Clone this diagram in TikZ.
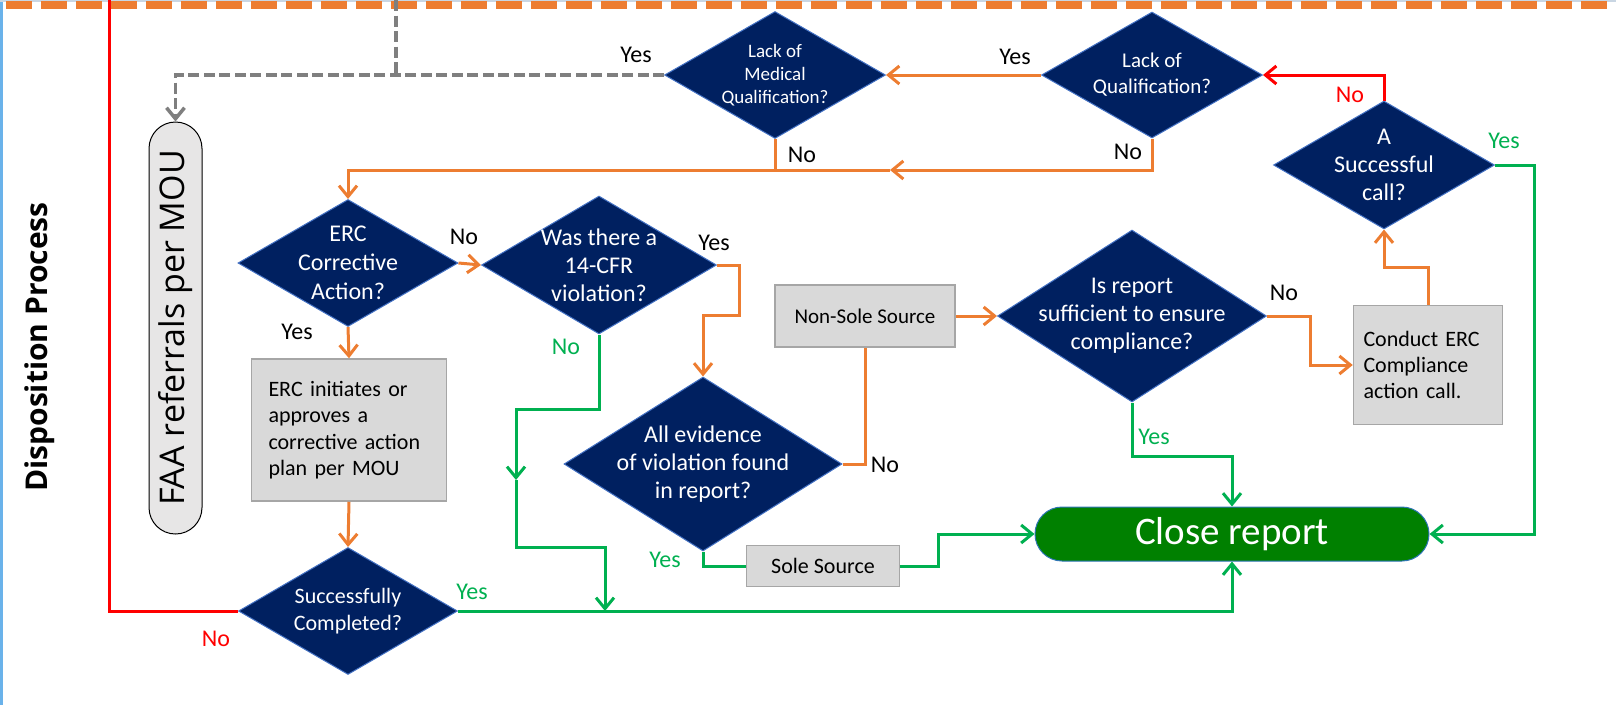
\documentclass[tikz,border=0pt]{standalone}
\usepackage{fontspec}
\setmainfont{Carlito}
\newfontfamily\opensans{Open Sans}
\usepackage{tikz}
\usetikzlibrary{shapes.geometric, arrows.meta}

\definecolor{navy}{HTML}{002060}
\definecolor{diaedge}{HTML}{4472C4}
\definecolor{boxfill}{HTML}{D9D9D9}
\definecolor{boxedge}{HTML}{A6A6A6}
\definecolor{pillfill}{HTML}{E7E6E6}
\definecolor{lorange}{HTML}{ED7D31}
\definecolor{lgreen}{HTML}{00B050}
\definecolor{lred}{HTML}{FF0000}
\definecolor{lgray}{HTML}{7F7F7F}
\definecolor{dkgreen}{HTML}{008000}
\definecolor{closeedge}{HTML}{2E75B6}
\definecolor{lblue}{HTML}{6AB2EA}
\definecolor{topedge}{HTML}{C9D6E3}

\newcommand{\fsz}[2]{\fontsize{#1}{#2}\selectfont}

\begin{document}
\begin{tikzpicture}[x=1pt, y=-1pt,
  dia/.style 2 args={diamond, draw=diaedge, line width=1pt, fill=navy, inner sep=0pt, minimum width=#1pt, minimum height=#2pt},
  dtext/.style={text=white, align=center},
  gbox/.style={rectangle, draw=boxedge, line width=1.5pt, fill=boxfill, inner sep=0pt},
  lbl/.style={font=\fsz{24}{28}},
  arr/.style={-{Straight Barb[length=11pt, width=18pt]}},
  orangeline/.style={draw=lorange, line width=3pt},
  greenline/.style={draw=lgreen, line width=3pt},
  redline/.style={draw=lred, line width=3pt},
  grayline/.style={draw=lgray, line width=3.5pt, dash pattern=on 11pt off 4.5pt}]
\useasboundingbox (0,0) rectangle (1616,705);

\fill[lblue] (0,0) rectangle (3,705);
\draw[topedge, line width=1.5pt] (0,0.75) -- (1616,0.75);
\draw[lorange, line width=8pt, dash pattern=on 26pt off 9pt, dash phase=29pt] (0,4.5) -- (1616,4.5);

\node[rotate=90, font=\opensans\bfseries\fsz{30}{36}] (title) at (40,347) {Disposition Process};

\node[rectangle, rounded corners=26.5pt, fill=pillfill, draw=black, line width=1pt, minimum width=53pt, minimum height=412pt,
  label={[rotate=90, font=\opensans\fsz{34}{40}]center:FAA referrals per MOU}] (pill) at (175.5,328) {};

\node[dia={221}{127}, label={[dtext, font=\fsz{19}{23}]center:Lack of\\Medical\\Qualification?}] (lmq) at (775,75) {};
\node[dia={221}{126}, label={[dtext, font=\fsz{21}{26}]center:Lack of\\Qualification?}] (lq) at (1152,75) {};
\node[dia={221}{128}, label={[dtext, font=\fsz{24}{28}]center:A\\Successful\\call?}] (scall) at (1384,165) {};
\node[dia={220}{127}, label={[dtext, font=\fsz{24}{29}]center:ERC\\Corrective\\Action?}] (erca) at (348,263) {};
\node[dia={235}{138}, label={[dtext, font=\fsz{24}{28}]center:Was there a\\14-CFR\\violation?}] (cfr) at (599,265) {};
\node[dia={278}{174}, label={[dtext, font=\fsz{24}{28}]center:All evidence\\of violation found\\in report?}] (evid) at (703,464) {};
\node[dia={269}{172}, label={[dtext, font=\fsz{24}{28}]center:Is report\\sufficient to ensure\\compliance?}] (suff) at (1132,316) {};
\node[dia={219}{127}, label={[dtext, font=\fsz{22}{27}]center:Successfully\\Completed?}] (succ) at (348,611) {};

\node[gbox, text width=161pt, align=left, inner xsep=17pt, minimum height=142pt, font=\fsz{22}{26.5}] (plan) at (349,430)
  {ERC initiates or\\approves a\\corrective action\\plan per MOU};
\node[gbox, text width=129pt, align=left, inner xsep=10pt, minimum height=119pt, font=\fsz{22}{26}] (conduct) at (1428,365)
  {Conduct ERC\\Compliance\\action call.};
\node[gbox, minimum width=180pt, minimum height=62pt, font=\fsz{21}{25}] (nonsole) at (865,316) {Non-Sole Source};
\node[gbox, minimum width=153pt, minimum height=41pt, font=\fsz{22}{26}] (sole) at (823,566) {Sole Source};

\node[rectangle, rounded corners=27pt, fill=dkgreen, draw=closeedge, line width=1pt, minimum width=394pt, minimum height=54pt,
  text=white, font=\fsz{39}{44}] (close) at (1232,534) {Close report};

\coordinate (gtop) at (396,0);
\coordinate (rtop) at (109,0);
\coordinate (nojoin) at (890,170);
\coordinate (cfrturn) at (739,315);
\coordinate (nocall) at (1310,365);
\coordinate (upturn) at (1384,267);
\coordinate (gbend) at (516,409);
\coordinate (gmid) at (516,480);
\coordinate (gdrop) at (605,547);

\draw[grayline, arr] (lmq.west) -| (pill.north);
\draw[grayline] (gtop) -- (gtop |- lmq.west);
\draw[orangeline, arr] (lq.west) -- (lmq.east);
\draw[redline, arr] (scall.north) |- (lq.east);
\draw[greenline, arr] (scall.east) -- ++(39,0) |- (close.east);
\draw[orangeline, arr] (lmq.south) |- (erca.north |- nojoin) -- (erca.north);
\draw[orangeline, arr] (lq.south) |- (nojoin);
\draw[orangeline] (nojoin) -- (lmq.south |- nojoin);
\draw[orangeline, arr] (erca.east) -- (cfr.west);
\draw[orangeline, arr] (erca.south) -- (plan.north);
\draw[orangeline, arr] (plan.south) -- (succ.north);
\draw[redline] (succ.west) -| (rtop);
\draw[greenline, arr] (succ.east) -| (close.south);
\draw[greenline, arr] (cfr.south) |- (gbend) -- (gmid);
\draw[greenline, arr] (gmid) |- (gdrop) -- (gdrop |- succ.east);
\draw[orangeline, arr] (cfr.east) -| (cfrturn) -| (evid.north);
\draw[orangeline] (evid.east) -| (nonsole.south);
\draw[orangeline, arr] (nonsole.east) -- (suff.west);
\draw[orangeline, arr] (suff.east) -| (nocall) -- (conduct.west);
\draw[orangeline, arr] (conduct.north) |- (upturn) -- (scall.south);
\draw[greenline, arr] (suff.south) -- ++(0,54) -| (close.north);
\draw[greenline] (evid.south) |- (sole.west);
\draw[greenline, arr] (sole.east) -- ++(38,0) |- (close.west);

\node[lbl] (y1) at (636,55) {Yes};
\node[lbl] (y2) at (1015,57) {Yes};
\node[lbl, text=lred] (n1) at (1350,95) {No};
\node[lbl, text=lgreen] (y3) at (1504,141) {Yes};
\node[lbl] (n2) at (802,155) {No};
\node[lbl] (n3) at (1128,152) {No};
\node[lbl] (n4) at (464,237) {No};
\node[lbl] (y4) at (714,243) {Yes};
\node[lbl] (y5) at (297,332) {Yes};
\node[lbl, text=lgreen] (n5) at (566,347) {No};
\node[lbl] (n6) at (885,465) {No};
\node[lbl] (n7) at (1284,293) {No};
\node[lbl, text=lgreen] (y6) at (1154,437) {Yes};
\node[lbl, text=lgreen] (y7) at (665,560) {Yes};
\node[lbl, text=lgreen] (y8) at (472,592) {Yes};
\node[lbl, text=lred] (n8) at (216,639) {No};
\end{tikzpicture}
\end{document}
